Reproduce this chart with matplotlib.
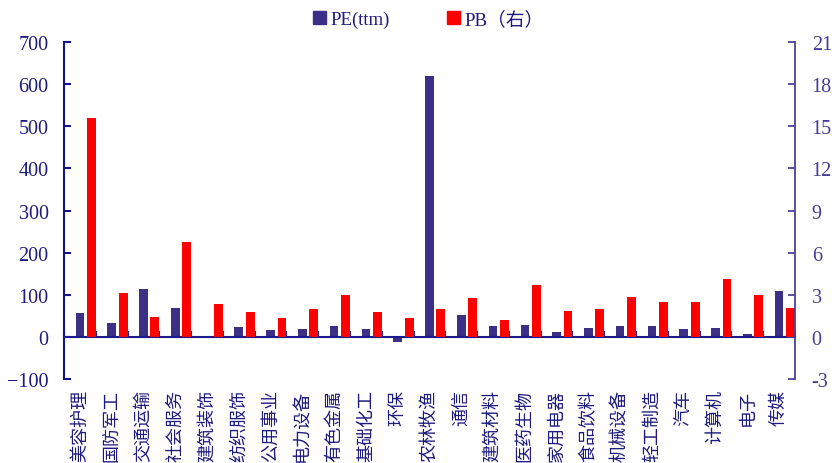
import matplotlib.pyplot as plt
from matplotlib.patches import Patch
import numpy as np

industries = ["美容护理", "国防军工", "交通运输", "社会服务", "建筑装饰", "纺织服饰",
              "公用事业", "电力设备", "有色金属", "基础化工", "环保", "农林牧渔",
              "通信", "建筑材料", "医药生物", "家用电器", "食品饮料", "机械设备",
              "轻工制造", "汽车", "计算机", "电子", "传媒"]
pe_ttm = [56, 32, 114, 69, 2, 23, 17, 19, 26, 18, -12, 619,
          51, 25, 29, 12, 20, 25, 25, 19, 22, 7, 108]
pb = [15.6, 3.15, 1.40, 6.74, 2.35, 1.76, 1.35, 2.0, 2.97, 1.78, 1.31, 2.02,
      2.80, 1.19, 3.73, 1.83, 1.99, 2.83, 2.52, 2.51, 4.13, 2.97, 2.06]

pe_color = "#3B2F86"
pb_color = "#FF0000"
txt_color = "#1E1A7E"
serif = ["Liberation Serif", "Noto Sans CJK SC"]

fig = plt.figure(figsize=(8.32, 4.64), dpi=100)
ax = fig.add_axes([0.0769, 0.181, 0.8786, 0.7263])
ax2 = ax.twinx()

x = np.arange(len(industries))
ax.bar(x + 0.5, pe_ttm, width=0.27, color=pe_color, zorder=2)
ax2.bar(x + 0.86, pb, width=0.28, color=pb_color, zorder=2)

ax.set_xlim(0, len(industries))
ax.set_ylim(-100, 700)
ax2.set_ylim(-3, 21)
ax.set_yticks(range(-100, 701, 100))
ax2.set_yticks(range(-3, 22, 3))
ax2.set_yticklabels([str(v) for v in range(-3, 22, 3)])

# x axis runs through zero, ticks at category boundaries
ax.spines["bottom"].set_position(("data", 0))
ax.spines["bottom"].set_color("#1A1A8C")
ax.spines["bottom"].set_linewidth(1.5)
ax.set_xticks(range(len(industries) + 1))
ax.set_xticklabels([])
ax.tick_params(axis="x", direction="in", length=4, width=1.5, color="#1A1A8C")

for s in ["top", "right"]:
    ax.spines[s].set_visible(False)
ax.spines["left"].set_color("#14148A")
ax.spines["left"].set_linewidth(1.5)
ax.tick_params(axis="y", direction="in", length=5, width=1.5, color="#14148A",
               labelcolor=txt_color, labelsize=14.5, pad=11)

for s in ["top", "left", "bottom"]:
    ax2.spines[s].set_visible(False)
ax2.spines["right"].set_color("#4A4196")
ax2.spines["right"].set_linewidth(1.3)
ax2.tick_params(axis="y", direction="in", length=5, width=1.3, color="#4A4196",
                labelcolor="#453C95", labelsize=14.5, pad=12)

for lab in ax.get_yticklabels() + ax2.get_yticklabels():
    lab.set_family(serif)

# category names below the plot area
for i, name in enumerate(industries):
    ax.text(i + 0.5, -0.03, name, transform=ax.get_xaxis_transform(),
            rotation=90, ha="center", va="top", fontsize=13,
            color=txt_color, family=["Noto Sans CJK SC", "DejaVu Sans"])

handles = [Patch(color=pe_color, label="PE(ttm)"), Patch(color=pb_color, label="PB（右）")]
leg = fig.legend(handles=handles, loc="center", bbox_to_anchor=(0.515, 0.957), ncol=2,
                 frameon=False, handlelength=0.7, handleheight=0.7, handletextpad=0.25,
                 columnspacing=3.05, prop={"family": serif, "size": 13.5})
for t in leg.get_texts():
    t.set_color(txt_color)

fig.savefig("out.png", dpi=100)
